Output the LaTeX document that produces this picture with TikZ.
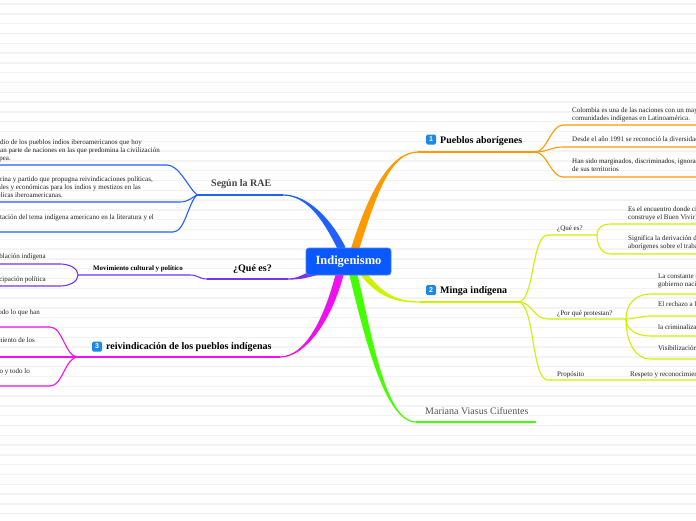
\documentclass[tikz,border=0pt]{standalone}
\usepackage{fontspec}
\setmainfont{Liberation Serif}
\newfontfamily\iconfont{Liberation Sans}
\usetikzlibrary{calc}
\definecolor{cblue}{HTML}{2060FF}
\definecolor{cbox}{HTML}{0A58FF}
\definecolor{corange}{HTML}{FF9900}
\definecolor{cyel}{HTML}{CCF200}
\definecolor{cgreen}{HTML}{44FF00}
\definecolor{cpink}{HTML}{EE11EE}
\definecolor{cpurple}{HTML}{7733EE}
\definecolor{ctext}{HTML}{222222}
\definecolor{cicon}{HTML}{1E88E5}
\definecolor{cstripe}{HTML}{F3F3F3}
\definecolor{cgray}{HTML}{444444}
\definecolor{cname}{HTML}{555555}
\newcommand{\taper}[8]{\fill[#1] ($(#2)+(#6,#7)$) .. controls ($(#3)+(#6,#7)$) and ($(#4)+(0,#8)$) .. ($(#5)+(0,#8)$) -- ($(#5)-(0,#8)$) .. controls ($(#4)-(0,#8)$) and ($(#3)-(#6,#7)$) .. ($(#2)-(#6,#7)$) -- cycle;}
\tikzset{
 smalltxt/.style={font=\fontsize{7}{8}\selectfont, text=ctext, inner sep=0pt},
 sl/.style={smalltxt, anchor=base west},
 sr/.style={smalltxt, anchor=base east},
 lbl/.style={font=\fontsize{10}{12}\selectfont\bfseries, inner sep=0pt, anchor=base west},
 iconbox/.style={fill=cicon, rounded corners=1.5pt, minimum size=10pt, inner sep=0pt, text=white, font=\iconfont\fontsize{7}{7}\selectfont\bfseries},
 subline/.style={line width=1.1pt},
 rootbox/.style={fill=cbox, draw=cbox!75!white, line width=0.8pt, rounded corners=3pt, minimum width=85pt, minimum height=27pt, text=white, font=\fontsize{12.5}{14}\selectfont\bfseries},
}
\begin{document}
\begin{tikzpicture}[x=1pt,y=-1pt]
\useasboundingbox (0,0) rectangle (696,520);
\clip (0,0) rectangle (696,520);
\fill[white] (0,0) rectangle (696,520);
\foreach \i in {0,...,53} \draw[cstripe,line width=1.4pt] (0,{4+9.8*\i}) -- (696,{4+9.8*\i});

% ---------- orange: Pueblos aborigenes ----------
\coordinate (o0) at (355,249); \coordinate (o1) at (418,152); \coordinate (ob) at (535,152);
\coordinate (oa) at (563,125); \coordinate (oaE) at (700,125);
\coordinate (oc) at (563,147); \coordinate (ocE) at (700,147);
\coordinate (od) at (563,177); \coordinate (odE) at (700,177);
\taper{corange}{o0}{372,195}{390,152}{o1}{3.8}{1.2}{0.6}
\draw[subline,corange] (o1) -- (ob);
\draw[subline,corange] (ob) .. controls +(12,0) and +(-12,0) .. (oa) -- (oaE);
\draw[subline,corange] (ob) .. controls +(12,0) and +(-12,0) .. (oc) -- (ocE);
\draw[subline,corange] (ob) .. controls +(12,0) and +(-12,0) .. (od) -- (odE);

% ---------- blue: Segun la RAE ----------
\coordinate (b0) at (342,249); \coordinate (b1) at (283,195); \coordinate (bb) at (197,195);
\coordinate (ba) at (167,165); \coordinate (baE) at (-5,165);
\coordinate (bc) at (180,202); \coordinate (bcE) at (-5,202);
\coordinate (bd) at (173,232); \coordinate (bdE) at (-5,232);
\taper{cblue}{b0}{330,225}{310,195}{b1}{3.5}{-1.8}{-0.6}
\draw[subline,cblue] (b1) -- (bb);
\draw[subline,cblue] (bb) .. controls +(-9,-8) and +(12,0) .. (ba) -- (baE);
\draw[subline,cblue] (bb) .. controls +(-6,3) and +(8,0) .. (bc) -- (bcE);
\draw[subline,cblue] (bb) .. controls +(-9,8) and +(12,0) .. (bd) -- (bdE);

% ---------- purple: Que es ----------
\coordinate (p0) at (318,272); \coordinate (p1) at (288,279); \coordinate (pq) at (207,279);
\coordinate (pm) at (190,275); \coordinate (pb) at (78,275);
\coordinate (pa) at (60,264); \coordinate (paE) at (-5,264);
\coordinate (pc) at (60,286); \coordinate (pcE) at (-5,286);
\taper{cpurple}{p0}{303,276}{300,279}{p1}{-0.8}{-2.6}{-0.6}
\draw[subline,cpurple] (p1) -- (pq);
\draw[subline,cpurple] (pq) .. controls +(-8,0) and +(8,0) .. (pm) -- (pb);
\draw[subline,cpurple] (pb) .. controls +(0,-7) and +(9,0) .. (pa) -- (paE);
\draw[subline,cpurple] (pb) .. controls +(0,7) and +(9,0) .. (pc) -- (pcE);

% ---------- pink: reivindicacion ----------
\coordinate (k0) at (340,273); \coordinate (k1) at (280,357); \coordinate (kb) at (78,357);
\coordinate (ka) at (50,327); \coordinate (kaE) at (-5,327);
\coordinate (kcE) at (-5,357);
\coordinate (kd) at (50,386); \coordinate (kdE) at (-5,386);
\taper{cpink}{k0}{328,320}{305,357}{k1}{-3.8}{-1}{-0.6}
\draw[subline,cpink] (k1) -- (kb);
\draw[subline,cpink] (kb) .. controls +(-13,0) and +(13,0) .. (ka) -- (kaE);
\draw[subline,cpink] (kb) -- (kcE);
\draw[subline,cpink] (kb) .. controls +(-13,0) and +(13,0) .. (kd) -- (kdE);

% ---------- green: author ----------
\coordinate (g0) at (353,273); \coordinate (g1) at (416,422); \coordinate (g2) at (536,422);
\taper{cgreen}{g0}{368,335}{385,422}{g1}{-3.8}{1.2}{0.6}
\draw[subline,cgreen] (g1) -- (g2);

% ---------- yellow: Minga indigena ----------
\coordinate (y0) at (362,272); \coordinate (y1) at (420,302); \coordinate (yb) at (518,302);
\coordinate (yq) at (548,235); \coordinate (yqb) at (597,235);
\coordinate (yqa) at (611,224); \coordinate (yqaE) at (700,224);
\coordinate (yqc) at (611,254); \coordinate (yqcE) at (700,254);
\coordinate (yp) at (548,319); \coordinate (ypb) at (626,319);
\coordinate (ypa) at (650,294); \coordinate (ypaE) at (700,294);
\coordinate (ypc) at (650,316); \coordinate (ypcE) at (700,316);
\coordinate (ypd) at (650,336); \coordinate (ypdE) at (700,336);
\coordinate (ype) at (650,359); \coordinate (ypeE) at (700,359);
\coordinate (yr) at (548,380); \coordinate (yrE) at (700,380);
\taper{cyel}{y0}{380,295}{395,302}{y1}{-2.3}{1.9}{0.6}
\draw[subline,cyel] (y1) -- (yb);
\draw[subline,cyel] (yb) .. controls +(17,0) and +(-17,0) .. (yq) -- (yqb);
\draw[subline,cyel] (yqb) .. controls +(0,-7) and +(-9,0) .. (yqa) -- (yqaE);
\draw[subline,cyel] (yqb) .. controls +(0,11) and +(-9,0) .. (yqc) -- (yqcE);
\draw[subline,cyel] (yb) .. controls +(15,0) and +(-15,0) .. (yp) -- (ypb);
\draw[subline,cyel] (ypb) .. controls +(0,-15) and +(-14,0) .. (ypa) -- (ypaE);
\draw[subline,cyel] (ypb) .. controls +(9,0) and +(-9,0) .. (ypc) -- (ypcE);
\draw[subline,cyel] (ypb) .. controls +(0,10) and +(-14,0) .. (ypd) -- (ypdE);
\draw[subline,cyel] (ypb) .. controls +(0,24) and +(-14,0) .. (ype) -- (ypeE);
\draw[subline,cyel] (yb) .. controls +(17,0) and +(-17,0) .. (yr) -- (yrE);

% ---------- central node ----------
\node[rootbox] (root) at (348.5,261.5) {Indigenismo};

% ---------- labels ----------
\node[iconbox] (ic1) at (431,139.5) {1};
\node[lbl] (l1) at (440,143.2) {Pueblos aborígenes};
\node[iconbox] (ic2) at (431,290) {2};
\node[lbl] (l2) at (440,293.2) {Minga indígena};
\node[iconbox] (ic3) at (97,346.5) {3};
\node[lbl] (l3) at (106,349.7) {reivindicación de los pueblos indígenas};
\node[lbl,text=cgray] (l4) at (211,186.7) {Según la RAE};
\node[lbl] (l5) at (233,271.7) {¿Qué es?};
\node[inner sep=0pt,anchor=base west,text=cname,font=\fontsize{10}{12}\selectfont] (l6) at (425,414.7) {Mariana Viasus Cifuentes};
\node[sl,font=\fontsize{6.9}{8}\selectfont\bfseries,text=black] (l7) at (93,270.4) {Movimiento cultural y político};

% orange texts
\node[sl] (t1) at (572,112.2) {Colombia es una de las naciones con un may};
\node[sl] (t2) at (572,120.2) {comunidades indígenas en Latinoamérica.};
\node[sl] (t3) at (572,141.7) {Desde el año 1991 se reconoció la diversidad};
\node[sl] (t4) at (572,163.2) {Han sido marginados, discriminados, ignorad};
\node[sl] (t5) at (572,171.2) {de sus territorios};

% blue texts
\node[sr] (t6) at (142,144.2) {dio de los pueblos indios iberoamericanos que hoy};
\node[sr] (t7) at (160,152.2) {an parte de naciones en las que predomina la civilización};
\node[sr] (t8) at (11,160.2) {pea.};
\node[sr] (t9) at (153,181.2) {rina y partido que propugna reivindicaciones políticas,};
\node[sr] (t10) at (141,189.2) {ales y económicas para los indios y mestizos en las};
\node[sr] (t11) at (63,197.2) {blicas iberoamericanas.};
\node[sr] (t12) at (154,219.2) {tación del tema indígena americano en la literatura y el};

% purple texts
\node[sr] (t13) at (46,258.2) {blación indígena};
\node[sr] (t14) at (46,281.2) {cipación política};

% pink texts
\node[sr] (t15) at (40,314.2) {odo lo que han};
\node[sr] (t16) at (35,342.2) {niento de los};
\node[sr] (t17) at (30,373.2) {o y todo lo};

% yellow texts
\node[sl] (t18) at (557,230.2) {¿Qué es?};
\node[sl] (t19) at (628,211.2) {Es el encuentro donde ci};
\node[sl] (t20) at (628,219.2) {construye el Buen Vivir'};
\node[sl] (t21) at (628,240.2) {Significa la derivación d};
\node[sl] (t22) at (628,248.7) {aborígenes sobre el traba};
\node[sl] (t23) at (557,315.2) {¿Por qué protestan?};
\node[sl] (t24) at (658,278.2) {La constante c};
\node[sl] (t25) at (658,286.2) {gobierno naci};
\node[sl] (t26) at (658,306.2) {El rechazo a l};
\node[sl] (t27) at (658,329.2) {la criminaliza};
\node[sl] (t28) at (658,350.2) {Visibilización};
\node[sl] (t29) at (557,376.2) {Propósito};
\node[sl] (t30) at (630,376.2) {Respeto y reconocimien};
\end{tikzpicture}
\end{document}
